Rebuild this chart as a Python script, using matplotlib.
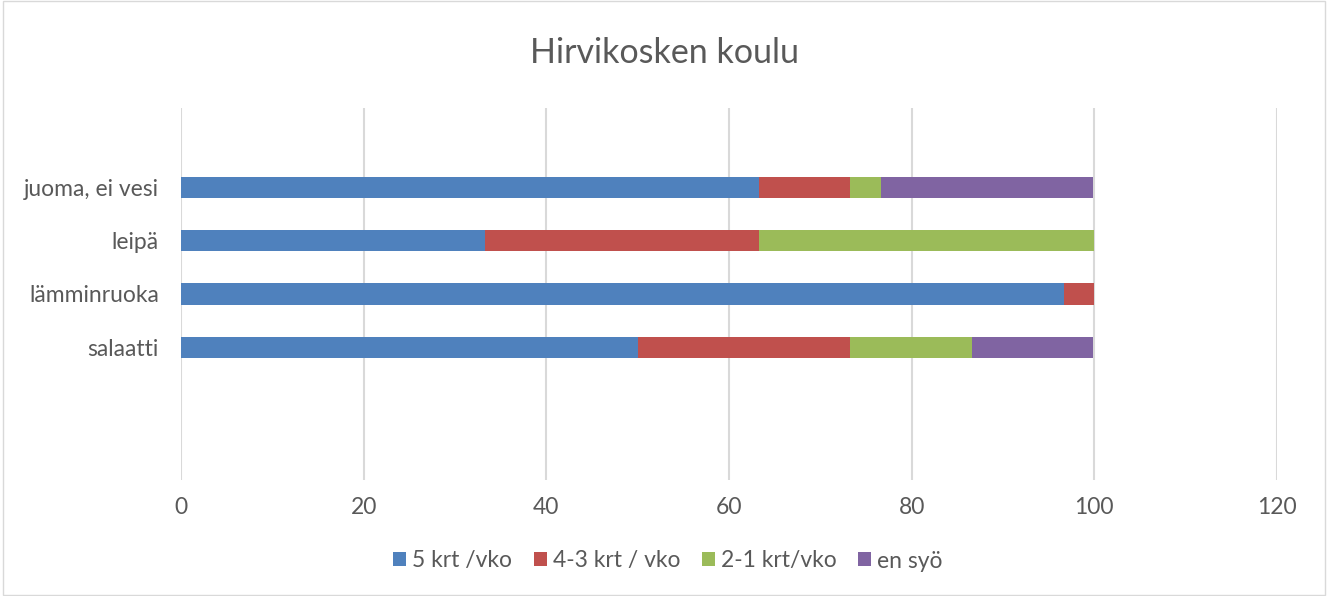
import matplotlib.pyplot as plt
import numpy as np

plt.rcParams['font.family'] = ['Lato', 'DejaVu Sans']

# Data (percent of answers)
categories = ['salaatti', 'lämminruoka', 'leipä', 'juoma, ei vesi']
series_names = ['5 krt /vko', '4-3 krt / vko', '2-1 krt/vko', 'en syö']
v5 = [50.0, 96.7, 33.3, 63.3]
v43 = [23.3, 3.3, 30.0, 10.0]
v21 = [13.3, 0.0, 36.7, 3.3]
en = [13.3, 0.0, 0.0, 23.3]
colors = ['#4F81BD', '#C0504D', '#9BBB59', '#8064A2']
xticks = [0, 20, 40, 60, 80, 100, 120]

fig = plt.figure(figsize=(13.28, 5.96), dpi=100)
ax = fig.add_axes([181 / 1328, 1 - 480 / 596, 1096 / 1328, 372 / 596])

y = np.arange(len(categories))
left = np.zeros(len(categories))
for vals, name, c in zip([v5, v43, v21, en], series_names, colors):
    ax.barh(y, vals, left=left, height=0.4, color=c, label=name, zorder=3)
    left += np.array(vals)

ax.set_xlim(0, 120)
ax.set_ylim(-2.5, 4.5)
ax.set_xticks(xticks)
ax.set_yticks(y)
ax.set_yticklabels(categories)
ax.grid(True, axis='x', color='#D9D9D9', linewidth=1.5, zorder=0)
ax.grid(False, axis='y')
for s in ax.spines.values():
    s.set_visible(False)
ax.tick_params(axis='both', length=0, colors='#595959', labelsize=16.5)
ax.tick_params(axis='x', pad=12)
ax.tick_params(axis='y', pad=16)

fig.text(0.5, 1 - 53 / 596, 'Hirvikosken koulu', ha='center', va='center',
         fontsize=24.5, color='#595959')

fig.legend(loc='center', bbox_to_anchor=(0.503, 1 - 561 / 596), ncol=4,
           frameon=False, fontsize=16.5, labelcolor='#595959',
           handlelength=0.57, handleheight=0.57, handletextpad=0.25, columnspacing=0.95)

# light border around the chart
fig.patches.append(plt.Rectangle((0.002, 0.002), 0.996, 0.996, transform=fig.transFigure,
                                 fill=False, edgecolor='#D9D9D9', linewidth=1))

fig.savefig('out.png', dpi=100, facecolor='white')
